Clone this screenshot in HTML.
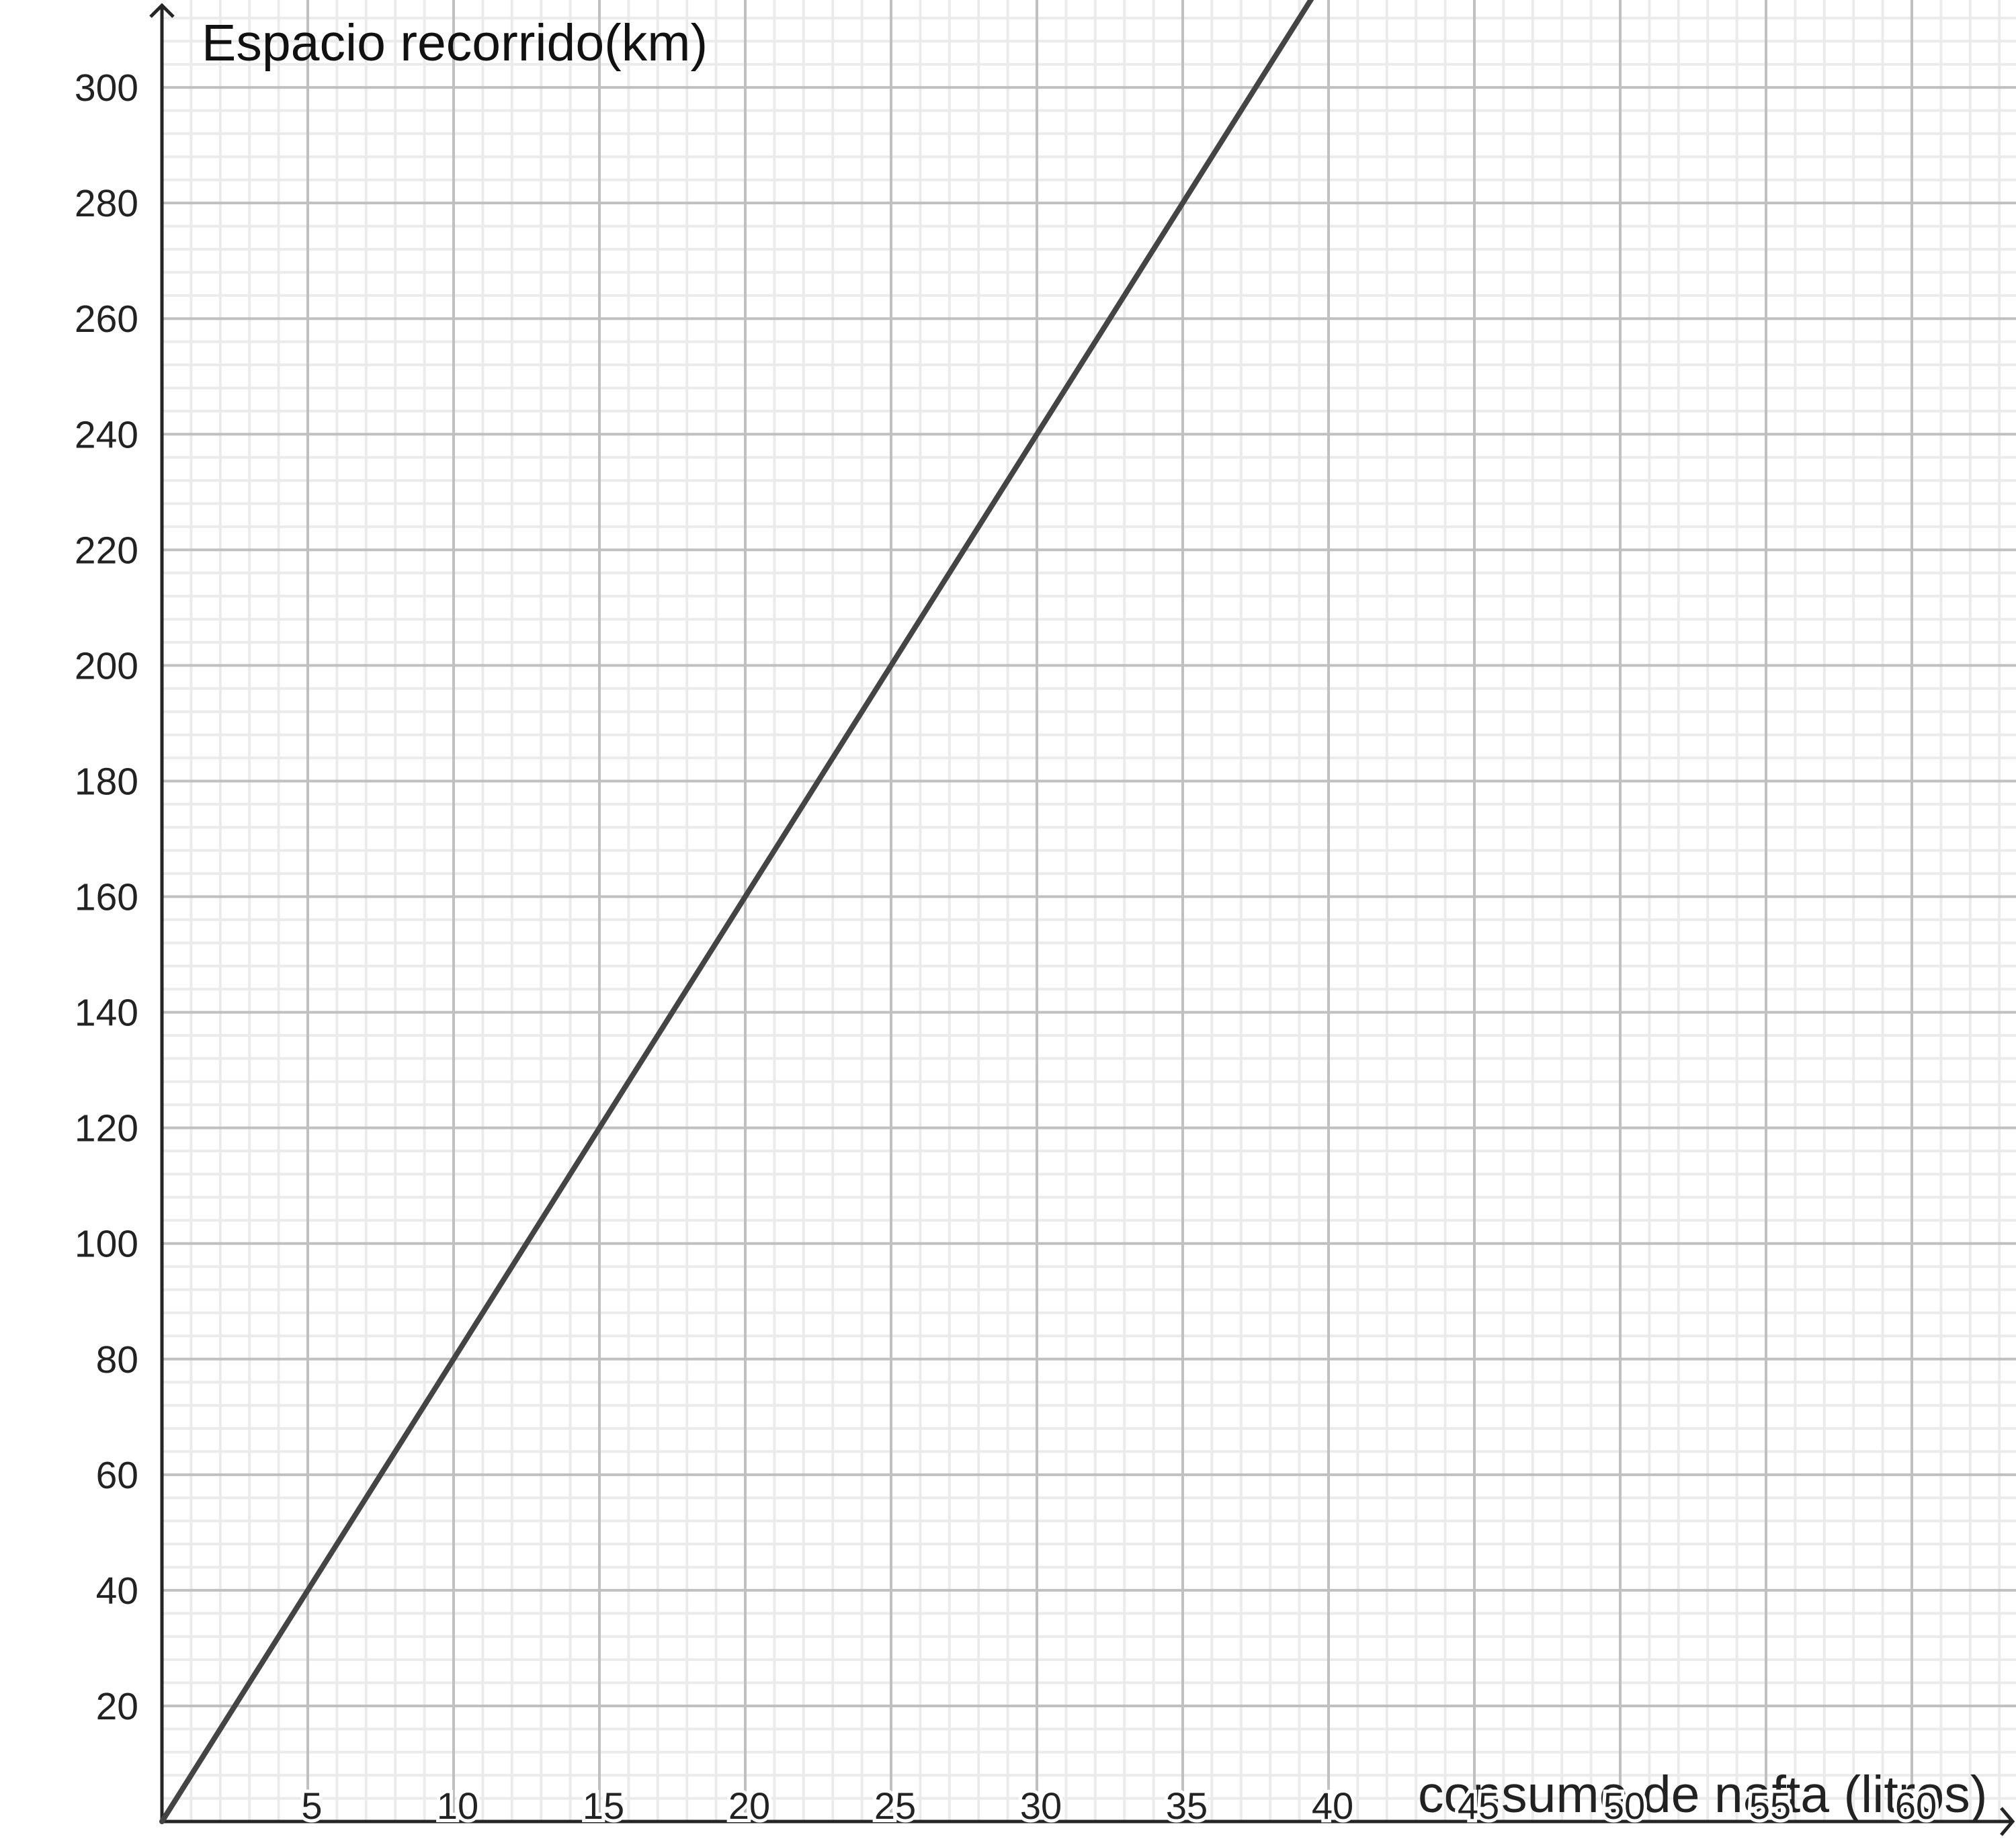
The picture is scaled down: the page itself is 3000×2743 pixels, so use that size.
<!DOCTYPE html>
<html><head><meta charset="utf-8"><style>
html,body{margin:0;padding:0;background:#fff}
svg{display:block}
text{font-family:"Liberation Sans",Arial,sans-serif}
</style></head><body>
<svg id="chart" width="3000" height="2743" viewBox="0 0 3000 2743" xmlns="http://www.w3.org/2000/svg">
<g id="grid"></g>
<text x="300" y="90" font-size="77" fill="#111">Espacio recorrido(km)</text>
<text x="2110" y="2697" font-size="77" fill="#222">consumo de nafta (litros)</text>
<g id="axes"></g>
<g id="labels"></g>
<g id="series"></g>
</svg>
<script>
const xTicks=[5,10,15,20,25,30,35,40,45,50,55,60];
const yTicks=[20,40,60,80,100,120,140,160,180,200,220,240,260,280,300];
const lineX=[0,40];
const lineY=[0,320];
const X0=241,Y0=2711,SX=43.4,SY=8.603;
const sx=v=>X0+v*SX, sy=v=>Y0-v*SY;
const NS="http://www.w3.org/2000/svg";
function mk(tag,attrs,parent){const e=document.createElementNS(NS,tag);for(const k in attrs)e.setAttribute(k,attrs[k]);parent.appendChild(e);return e;}
const grid=document.getElementById('grid');
for(let v=1;sx(v)<3000;v++){if(v%5===0)continue;const l=mk('line',{x1:sx(v),x2:sx(v),y1:0,y2:Y0,stroke:'#ebebeb','stroke-width':4},grid);

}
for(let v=4;sy(v)>0;v+=4){if(v%20===0)continue;const l=mk('line',{x1:X0,x2:3000,y1:sy(v),y2:sy(v),stroke:'#ebebeb','stroke-width':4},grid);

}
for(let v=5;sx(v)<3000;v+=5){const l=mk('line',{x1:sx(v),x2:sx(v),y1:0,y2:Y0,stroke:'#c0c0c0','stroke-width':4},grid);

}
for(let v=20;sy(v)>0;v+=20){const l=mk('line',{x1:X0,x2:3000,y1:sy(v),y2:sy(v),stroke:'#c0c0c0','stroke-width':4},grid);

}
const axes=document.getElementById('axes');
let a=mk('path',{d:`M${X0},${Y0} V8 M${X0-17},25 L${X0},8 L${X0+17},25`,stroke:'#252525','stroke-width':5,fill:'none'},axes);


a=mk('path',{d:`M${X0},${Y0} H2995 M2978,${Y0-20} L2995,${Y0} L2978,${Y0+20}`,stroke:'#252525','stroke-width':5,fill:'none'},axes);


const labels=document.getElementById('labels');
xTicks.forEach(v=>{const t=mk('text',{x:sx(v)+6,y:Y0-4,'font-size':56,'text-anchor':'middle',fill:'#222',stroke:'#fff','stroke-width':10,'paint-order':'stroke'},labels);t.textContent=v;

});
yTicks.forEach(v=>{const t=mk('text',{x:206,y:sy(v)+20,'font-size':57,'text-anchor':'end',fill:'#222'},labels);t.textContent=v;

});
const series=document.getElementById('series');
const cp=mk('clipPath',{id:'clip'},series);mk('rect',{x:0,y:0,width:3000,height:2743},cp);
const pts=lineX.map((x,i)=>sx(x)+','+sy(lineY[i])).join(' ');
const pl=mk('polyline',{points:pts,stroke:'#444','stroke-width':8,fill:'none','stroke-linecap':'round','clip-path':'url(#clip)'},series);


</script>
</body></html>
